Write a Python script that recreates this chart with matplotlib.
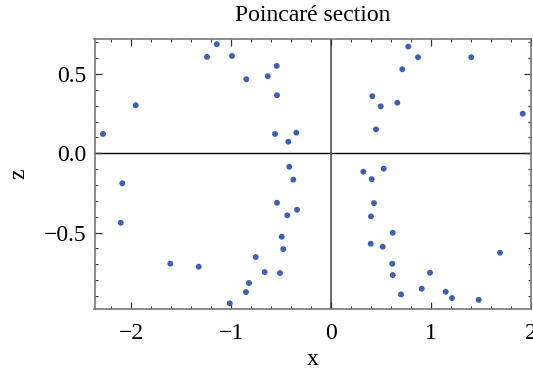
import matplotlib.pyplot as plt
from matplotlib.ticker import MultipleLocator

x_vals = [-2.28, -1.953, -1.24, -1.143, -0.99, -0.847, -0.633, -0.543, -0.54, -0.56,
          -0.347, -0.427, -0.417, -0.377,
          0.773, 0.87, 1.403, 0.713, 0.413, 0.497, 0.663, 0.45, 1.917,
          0.323, 0.527, 0.407,
          -2.087, -0.54, -0.34, -0.437, -2.103, -0.493, -0.477, -0.753, -1.607, -1.323,
          -0.663, -0.51, -0.82, -0.85, -1.013,
          0.43, 0.40, 0.617, 0.397, 0.517, 1.69, 0.613, 0.617, 0.99, 0.907, 0.70,
          1.147, 1.21, 1.477]
z_vals = [0.122, 0.303, 0.608, 0.688, 0.614, 0.467, 0.486, 0.551, 0.366, 0.122,
          0.130, 0.073, -0.085, -0.166,
          0.673, 0.606, 0.606, 0.530, 0.360, 0.296, 0.319, 0.151, 0.250,
          -0.116, -0.097, -0.163,
          -0.189, -0.312, -0.356, -0.391, -0.438, -0.526, -0.604, -0.654, -0.696, -0.715,
          -0.749, -0.755, -0.818, -0.875, -0.946,
          -0.314, -0.398, -0.501, -0.570, -0.589, -0.627, -0.696, -0.768, -0.753, -0.854, -0.890,
          -0.873, -0.913, -0.924]

plt.rcParams['font.family'] = ['Liberation Serif', 'DejaVu Serif']

fig = plt.figure(figsize=(5.33, 3.76), dpi=100)
ax = fig.add_axes([94.5 / 533, (376 - 308.7) / 376, (531 - 94.5) / 533, (308.7 - 39.3) / 376])

# achsen durch den ursprung
ax.axhline(0, color='black', lw=1.0, zorder=1)
ax.axvline(0, color='#555555', lw=1.2, zorder=1)

ax.scatter(x_vals, z_vals, s=18, color='#3f5fb0', edgecolors='none', zorder=3)

ax.set_xlim(-2.365, 2.0)
ax.set_ylim(-0.98, 0.719)

ax.xaxis.set_minor_locator(MultipleLocator(0.2))
ax.yaxis.set_minor_locator(MultipleLocator(0.1))
ax.set_yticks([-0.5, 0.0, 0.5])
ax.set_yticklabels(['\u22120.5', '0.0', '0.5'])
ax.set_xticks([-2, -1, 0, 1, 2])
ax.set_xticklabels(['\u22122', '\u22121', '0', '1', '2'])

ax.tick_params(which='both', direction='in', top=True, right=True, color='#333333',
               labelsize=17)
ax.tick_params(axis='x', pad=10)
ax.tick_params(axis='y', pad=6)
ax.tick_params(which='major', length=5, width=0.9)
ax.tick_params(which='minor', length=2.5, width=0.7)
for sp in ax.spines.values():
    sp.set_color('#777777')
    sp.set_linewidth(1.2)

ax.set_title('Poincaré section', fontsize=17, pad=13)
ax.set_xlabel('x', fontsize=17, labelpad=4)
ax.set_ylabel('z', fontsize=17, labelpad=10)

fig.savefig('out.png', dpi=100)
